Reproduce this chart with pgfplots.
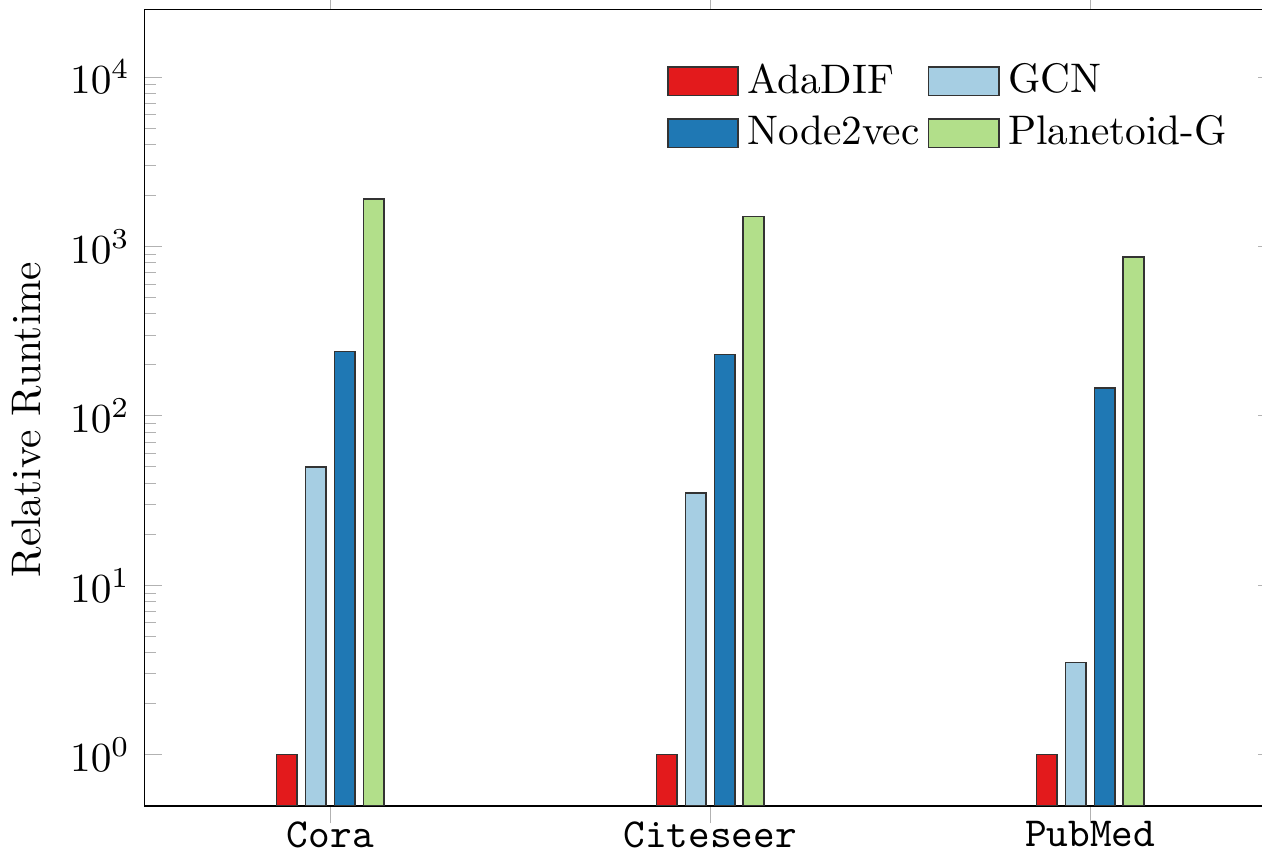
\documentclass[border=0pt]{standalone}
\usepackage{pgfplots}
\pgfplotsset{compat=1.18}
\usetikzlibrary{calc}
\definecolor{cRed}{HTML}{E31A1C}
\definecolor{cLB}{HTML}{A6CEE3}
\definecolor{cDB}{HTML}{1F78B4}
\definecolor{cLG}{HTML}{B2DF8A}
\begin{document}
\begin{tikzpicture}
\begin{axis}[
  scale only axis, width=274pt, height=192.8pt,
  ymode=log, ymin=0.5, ymax=25000, log origin y=infty,
  xmin=-0.489, xmax=2.489,
  xtick={0,1,2}, xticklabels={\texttt{Cora},\texttt{Citeseer},\texttt{PubMed}},
  xticklabel style={yshift=4pt},
  ybar=2pt, bar width=5pt,
  ylabel={Relative Runtime},
  every axis y label/.append style={at={(ticklabel cs:0.485)}},
  tick style={black!30},
  ytick={1,10,100,1000,10000},
  legend columns=2,
  legend style={draw=none, fill=none, at={(0.450,0.954)}, anchor=north west, column sep=0pt},
  legend cell align=left,
  legend image code/.code={\draw[#1] (0cm,-0.12cm) rectangle (0.6cm,0.12cm);},
]
\addplot[fill=cRed, draw=black!80] coordinates {(0,1) (1,1) (2,1)};
\addplot[fill=cLB, draw=black!80] coordinates {(0,50) (1,35) (2,3.5)};
\addplot[fill=cDB, draw=black!80] coordinates {(0,240) (1,230) (2,146)};
\addplot[fill=cLG, draw=black!80] coordinates {(0,1900) (1,1500) (2,865)};
\legend{AdaDIF, GCN, Node2vec, Planetoid-G}
\coordinate (bl) at (rel axis cs:0,0);
\coordinate (tl) at (rel axis cs:0,1);
\end{axis}
\pgfresetboundingbox
\path[use as bounding box] ($(bl)+(-35pt,-11pt)$) rectangle ($(tl)+(270.6pt,2.3pt)$);
\end{tikzpicture}
\end{document}
